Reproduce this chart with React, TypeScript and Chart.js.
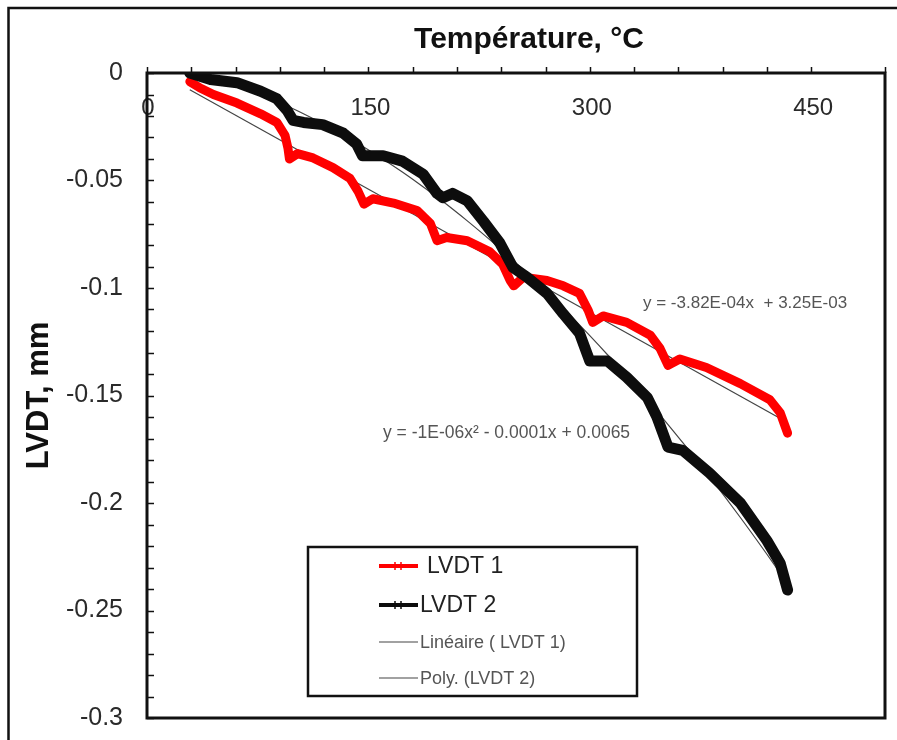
import { useEffect, useRef } from 'react';
import { Chart, registerables } from 'chart.js';

Chart.register(...registerables);

const FONT = "'Liberation Sans', Arial, Helvetica, sans-serif";

// Température (°C) and LVDT (mm) readings
const LVDT1_T = [29, 36, 45, 61, 77, 88, 93.5, 95.5, 96.5, 102, 112.5, 126, 137.5, 143, 147, 153, 167, 183, 192, 196.5, 203, 217, 232, 241, 246, 248.5, 255, 271, 282, 293, 299, 302, 309, 325, 341, 347.5, 353, 361, 379, 402, 422, 429, 434];
const LVDT1_MM = [-0.004, -0.007, -0.010, -0.014, -0.019, -0.023, -0.029, -0.035, -0.040, -0.0375, -0.0395, -0.044, -0.049, -0.055, -0.061, -0.0585, -0.0605, -0.064, -0.070, -0.078, -0.0765, -0.078, -0.083, -0.089, -0.0965, -0.099, -0.095, -0.0965, -0.099, -0.1025, -0.1105, -0.116, -0.113, -0.116, -0.122, -0.128, -0.136, -0.133, -0.137, -0.1445, -0.152, -0.158, -0.1675];

const LVDT2_T = [29, 43, 61, 77, 88, 95, 99, 106, 119, 133, 142, 146, 160, 173, 187, 196.5, 200.5, 207, 217, 228, 239, 248, 257.5, 271, 282, 293, 300, 312, 325, 339, 345.5, 353, 363, 381, 402, 420, 429, 434];
const LVDT2_MM = [0, -0.003, -0.0045, -0.0085, -0.012, -0.0175, -0.022, -0.023, -0.024, -0.028, -0.033, -0.0385, -0.0385, -0.041, -0.047, -0.056, -0.058, -0.056, -0.0595, -0.069, -0.079, -0.0905, -0.095, -0.1025, -0.112, -0.121, -0.134, -0.134, -0.1415, -0.151, -0.160, -0.174, -0.1755, -0.186, -0.200, -0.2175, -0.228, -0.2405];

// Linear trendline coefficients as printed on the chart
const LIN_SLOPE = -3.82e-4;
const LIN_INTERCEPT = 3.25e-3;

const SERIES_LABELS = ['LVDT 1', 'LVDT 2', 'Linéaire ( LVDT 1)', 'Poly. (LVDT 2)'];
const X_TICK_LABELS = [0, 150, 300, 450];
const Y_TICK_LABELS = [0, -0.05, -0.1, -0.15, -0.2, -0.25, -0.3];
const X_TITLE = 'Température, °C';
const Y_TITLE = 'LVDT, mm';
const LIN_EQ = 'y = -3.82E-04x  + 3.25E-03';
const POLY_EQ = 'y = -1E-06x² - 0.0001x + 0.0065';

// least-squares quadratic fit (Excel "Poly." trendline)
function fitQuad(xs: number[], ys: number[]) {
  const S = [0, 0, 0, 0, 0];
  const T = [0, 0, 0];
  for (let i = 0; i < xs.length; i++) {
    let p = 1;
    for (let k = 0; k < 5; k++) {
      S[k] += p;
      if (k < 3) T[k] += p * ys[i];
      p *= xs[i];
    }
  }
  const M = [
    [S[0], S[1], S[2], T[0]],
    [S[1], S[2], S[3], T[1]],
    [S[2], S[3], S[4], T[2]],
  ];
  for (let c = 0; c < 3; c++) {
    for (let r = c + 1; r < 3; r++) {
      const f = M[r][c] / M[c][c];
      for (let k = c; k < 4; k++) M[r][k] -= f * M[c][k];
    }
  }
  const sol = [0, 0, 0];
  for (let r = 2; r >= 0; r--) {
    let s = M[r][3];
    for (let k = r + 1; k < 3; k++) s -= M[r][k] * sol[k];
    sol[r] = s / M[r][r];
  }
  return sol; // c0, c1, c2
}

const decor = {
  id: 'decor',
  afterDraw(chart: any) {
    const { ctx, chartArea: a, scales } = chart;
    const x = scales.x;
    const y = scales.y;
    ctx.save();

    // x tick labels (inside, under the top axis)
    ctx.font = `24px ${FONT}`;
    ctx.fillStyle = '#2a2a2a';
    ctx.textAlign = 'center';
    ctx.textBaseline = 'middle';
    X_TICK_LABELS.forEach((v) => ctx.fillText(String(v), x.getPixelForValue(v) + (v === 0 ? 1 : 2), a.top + 35));

    // tick marks
    ctx.strokeStyle = '#111';
    ctx.lineWidth = 1.5;
    ctx.beginPath();
    x.ticks.forEach((t: any) => {
      const px = Math.round(x.getPixelForValue(t.value)) + 0.5;
      ctx.moveTo(px, a.top);
      ctx.lineTo(px, a.top - 6);
    });
    y.ticks.forEach((t: any) => {
      const py = Math.round(y.getPixelForValue(t.value)) + 0.5;
      ctx.moveTo(a.left, py);
      ctx.lineTo(a.left + 7, py);
    });
    ctx.stroke();

    // plot box
    ctx.lineWidth = 3;
    ctx.strokeStyle = '#111';
    ctx.strokeRect(a.left, a.top, a.right - a.left, a.bottom - a.top);

    // outer frame
    ctx.lineWidth = 2.5;
    ctx.beginPath();
    ctx.moveTo(8.5, 760);
    ctx.lineTo(8.5, 8);
    ctx.lineTo(900, 8);
    ctx.stroke();

    // x title
    ctx.font = `bold 30px ${FONT}`;
    ctx.fillStyle = '#111';
    ctx.textAlign = 'center';
    ctx.textBaseline = 'alphabetic';
    ctx.fillText(X_TITLE, 529, 48);

    // trendline equations
    ctx.font = `17px ${FONT}`;
    ctx.fillStyle = '#555';
    ctx.textAlign = 'left';
    ctx.textBaseline = 'middle';
    ctx.fillText(LIN_EQ, 643, 303);
    ctx.font = `17.5px ${FONT}`;
    ctx.fillText(POLY_EQ, 383, 433);

    // legend
    const lx = 308, ly = 547, lw = 329, lh = 149;
    ctx.fillStyle = '#fff';
    ctx.fillRect(lx, ly, lw, lh);
    ctx.lineWidth = 2.5;
    ctx.strokeStyle = '#111';
    ctx.strokeRect(lx, ly, lw, lh);
    const rows = [566, 605, 642, 678];
    const textX = [427, 420, 420, 420];
    chart.data.datasets.forEach((ds: any, i: number) => {
      const yy = rows[i];
      ctx.strokeStyle = ds.borderColor;
      ctx.lineWidth = i < 2 ? 4 : 1.2;
      ctx.beginPath();
      ctx.moveTo(379, yy);
      ctx.lineTo(418, yy);
      ctx.stroke();
      if (i < 2) {
        ctx.lineWidth = 1.5;
        ctx.beginPath();
        ctx.moveTo(395, yy - 4);
        ctx.lineTo(395, yy + 4);
        ctx.moveTo(401, yy - 4);
        ctx.lineTo(401, yy + 4);
        ctx.stroke();
      }
      ctx.font = i < 2 ? `23px ${FONT}` : `18px ${FONT}`;
      ctx.fillStyle = i < 2 ? '#222' : '#555';
      ctx.textAlign = 'left';
      ctx.textBaseline = 'middle';
      ctx.fillText(ds.label, textX[i], yy + 1);
    });

    ctx.restore();
  },
};

export default function App() {
  const ref = useRef<HTMLCanvasElement | null>(null);

  useEffect(() => {
    if (!ref.current) return;
    const d1 = LVDT1_T.map((t, i) => ({ x: t, y: LVDT1_MM[i] }));
    const d2 = LVDT2_T.map((t, i) => ({ x: t, y: LVDT2_MM[i] }));
    const xMin = LVDT1_T[0];
    const xMax = LVDT1_T[LVDT1_T.length - 1];
    const lin = [xMin, xMax].map((t) => ({ x: t, y: LIN_SLOPE * t + LIN_INTERCEPT }));
    const [c0, c1, c2] = fitQuad(LVDT2_T, LVDT2_MM);
    const poly = LVDT2_T.map((t) => ({ x: t, y: c0 + c1 * t + c2 * t * t }));

    const chart = new Chart(ref.current, {
      type: 'line',
      data: {
        datasets: [
          {
            label: SERIES_LABELS[0],
            data: d1,
            borderColor: '#ff0000',
            backgroundColor: '#ff0000',
            borderWidth: 9,
            pointRadius: 0,
            borderJoinStyle: 'round',
            borderCapStyle: 'round',
            order: 2,
          },
          {
            label: SERIES_LABELS[1],
            data: d2,
            borderColor: '#0d0d0d',
            backgroundColor: '#0d0d0d',
            borderWidth: 11,
            pointRadius: 0,
            borderJoinStyle: 'round',
            borderCapStyle: 'round',
            order: 1,
          },
          {
            label: SERIES_LABELS[2],
            data: lin,
            borderColor: '#444',
            borderWidth: 1.2,
            pointRadius: 0,
            order: 3,
          },
          {
            label: SERIES_LABELS[3],
            data: poly,
            borderColor: '#444',
            borderWidth: 1.2,
            pointRadius: 0,
            cubicInterpolationMode: 'monotone',
            order: 4,
          },
        ],
      } as any,
      options: {
        animation: false,
        responsive: false,
        layout: { padding: { left: 0, top: 0, right: 12, bottom: 22 } },
        plugins: { legend: { display: false }, tooltip: { enabled: false } },
        scales: {
          x: {
            type: 'linear',
            position: 'top',
            min: 0,
            max: 500,
            ticks: { display: false, stepSize: 30 },
            grid: { display: false, drawTicks: false },
            border: { display: false },
            afterFit: (s: any) => {
              s.height = 73;
            },
          },
          y: {
            type: 'linear',
            min: -0.3,
            max: 0,
            ticks: {
              stepSize: 0.01,
              autoSkip: false,
              padding: 24,
              color: '#2a2a2a',
              font: { family: FONT, size: 25 },
              callback: (v: any) => {
                const hit = Y_TICK_LABELS.find((t) => Math.abs(t - Number(v)) < 1e-6);
                return hit === undefined ? '' : String(hit);
              },
            },
            grid: { display: false, drawTicks: false },
            border: { display: false },
            title: {
              display: true,
              text: Y_TITLE,
              color: '#111',
              font: { family: FONT, size: 31, weight: 'bold' },
              padding: { top: 21, bottom: 0 },
            },
            afterFit: (s: any) => {
              s.width = 147;
              s.paddingTop = 0;
              s.paddingBottom = 0;
            },
          },
        },
      } as any,
      plugins: [decor],
    });
    return () => chart.destroy();
  }, []);

  return (
    <div style={{ position: 'absolute', left: 0, top: 0, width: 897, height: 740, background: '#fff' }}>
      <canvas ref={ref} width={897} height={740} style={{ display: 'block', width: 897, height: 740 }} />
    </div>
  );
}
